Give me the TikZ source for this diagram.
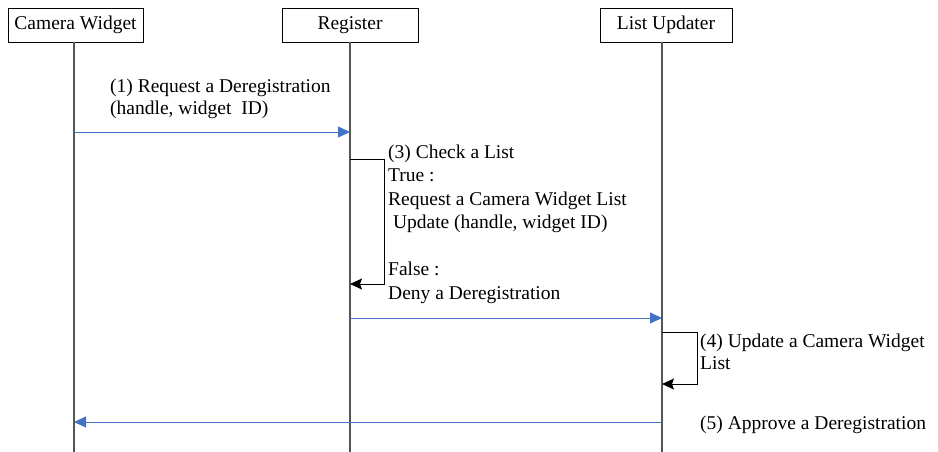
\documentclass[tikz,border=0pt]{standalone}
\usepackage{fontspec}
\setmainfont{Liberation Serif}
\usetikzlibrary{arrows.meta}
\definecolor{msgblue}{RGB}{68,114,196}
\definecolor{lifegray}{RGB}{85,85,85}

\begin{document}
\begin{tikzpicture}[x=1pt,y=-1pt,
	actor/.style={draw,line width=0.9pt,minimum height=34pt,inner sep=0pt,font=\fontsize{19.5}{22}\selectfont},
	lifeline/.style={draw=lifegray,line width=1.5pt},
	msg/.style={draw=msgblue,line width=0.9pt,-{Triangle[length=12pt,width=11pt]}},
	selfmsg/.style={draw=black,line width=0.9pt,-{Stealth[length=12pt,width=11pt,inset=2pt]}},
	lbl/.style={anchor=north west,align=left,inner sep=0pt,font=\fontsize{19.5}{22.5}\selectfont}]
	\useasboundingbox (0,0) rectangle (938,452);
	
	% actors and their lifelines
	\foreach \n/\bx/\lx/\w/\t in
	{cam/75.5/74/135/Camera Widget, reg/350/350/136/Register, upd/666/662/132/List Updater}{
		\node[actor,minimum width=\w pt] (\n) at (\bx,25) {\t};
		\coordinate (\n top) at (\lx,42);
		\coordinate (\n end) at (\lx,452);
		\draw[lifeline] (\n top) -- (\n end);
	}
	
	% message points
	\foreach \x/\n/\y in
	{74/cam1/132, 350/reg1/132, 350/reg2/159, 350/reg3/284, 350/reg4/318,
	 662/upd1/318, 662/upd2/332, 662/upd3/384, 662/upd4/422, 74/cam2/422}{
		\coordinate (\n) at (\x,\y);
	}
	
	% (1) request
	\draw[msg] (cam1) -- (reg1);
	\node[lbl] (l1) at (110,78.5) {(1) Request a Deregistration\\(handle, widget\ \ ID)};
	
	% (3) check a list
	\draw[selfmsg] (reg2) -- ++(34,0) |- (reg3);
	\node[lbl,font=\fontsize{19.5}{23.5}\selectfont] (l3) at (388,144.5) {(3) Check a List\\True :\\Request a Camera Widget List\\\ Update (handle, widget ID)\\[23.5pt]False :\\Deny a Deregistration};
	
	% update request
	\draw[msg] (reg4) -- (upd1);
	
	% (4) update
	\draw[selfmsg] (upd2) -- ++(35,0) |- (upd3);
	\node[lbl,font=\fontsize{19.5}{22}\selectfont] (l4) at (700,333.5) {(4) Update a Camera Widget\\List};
	
	% (5) approve
	\draw[msg] (upd4) -- (cam2);
	\node[lbl] (l5) at (700,415.5) {(5) Approve a Deregistration};
\end{tikzpicture}
\end{document}
